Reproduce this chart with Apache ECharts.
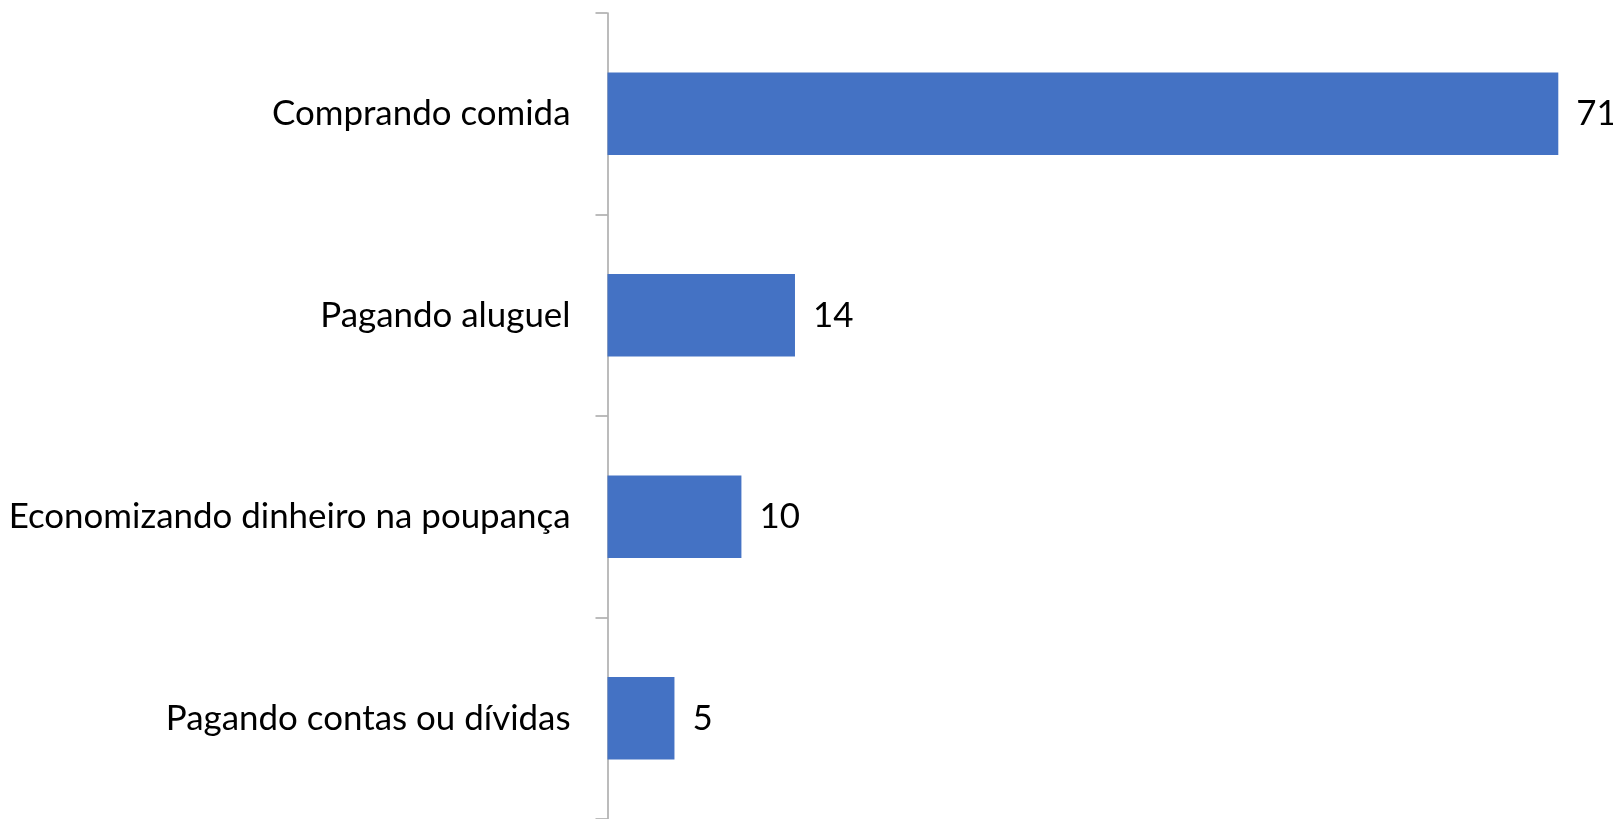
<!DOCTYPE html>
<html><head><meta charset="utf-8">
<script src="https://cdn.jsdelivr.net/npm/echarts@6/dist/echarts.min.js"></script>
<style>html,body{margin:0;padding:0;background:#fff}#c{width:1613px;height:819px}</style>
</head><body><div id="c"></div>
<script>
const categories = ["Comprando comida", "Pagando aluguel", "Economizando dinheiro na poupança", "Pagando contas ou dívidas"];
const values = [71, 14, 10, 5];

const chart = echarts.init(document.getElementById('c'));
chart.setOption({
  animation: false,
  grid: { left: 607.5, right: 54.7, top: 13, bottom: -2, containLabel: false },
  xAxis: { type: 'value', min: 0, max: 71, show: false },
  yAxis: {
    type: 'category', data: categories, inverse: true,
    axisLine: { show: true, lineStyle: { color: '#A6A6A6', width: 1.5 } },
    axisTick: { show: true, alignWithLabel: false, interval: 0, length: 12, lineStyle: { color: '#A6A6A6', width: 1.5 } },
    axisLabel: { color: '#000', fontFamily: 'Lato', fontSize: 34.9, margin: 37 }
  },
  series: [{
    type: 'bar', data: values, barCategoryGap: '59%',
    itemStyle: { color: '#4472C4' },
    label: { show: true, position: 'right', distance: 18, color: '#000', fontFamily: 'Lato', fontSize: 34.9 }
  }]
});
</script></body></html>
